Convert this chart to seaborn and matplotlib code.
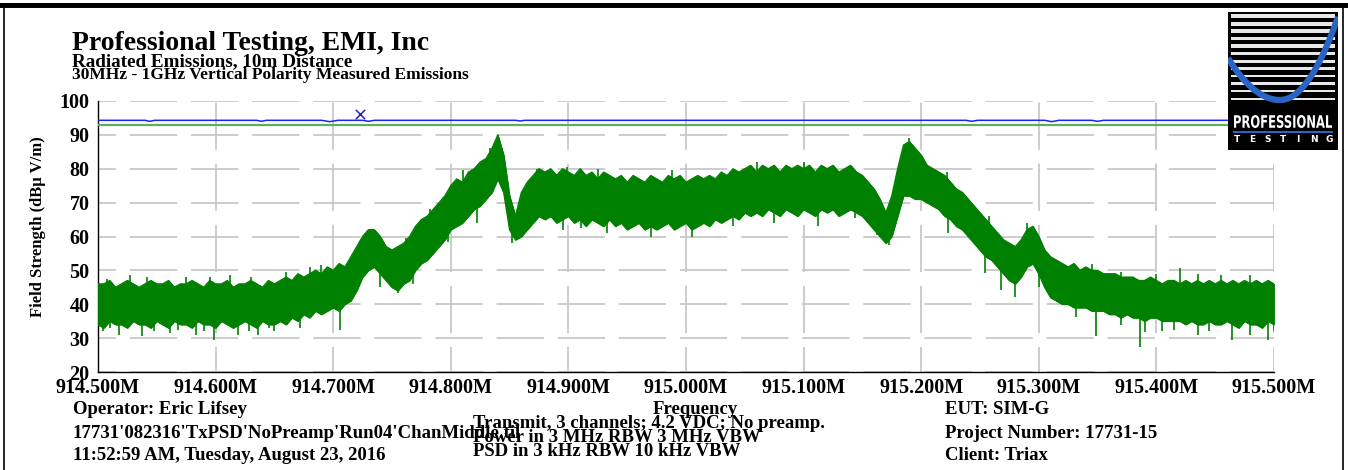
import numpy as np
import pandas as pd
import matplotlib
matplotlib.use("Agg")
import matplotlib.pyplot as plt
import seaborn as sns
from matplotlib.lines import Line2D
from matplotlib.patches import Rectangle, PathPatch
from matplotlib.ticker import MultipleLocator, FixedLocator, FixedFormatter
from matplotlib.textpath import TextPath
from matplotlib.font_manager import FontProperties
from matplotlib.transforms import Affine2D

# ---------------- data ----------------
START_MHZ = 914.5
# envelope of the measured emission trace, every 5 kHz from 914.500 MHz
env_khz = list(range(0, 1001, 5))
env_upper = [
    # 0-150
    46, 46, 47, 45, 46, 47, 46, 45, 46, 47, 46, 46, 47, 45, 46, 46, 47, 46, 45, 47,
    46, 46, 47, 45, 46, 46, 47, 46, 45, 47, 46,
    # 155-215
    47, 48, 47, 49, 48, 49, 50, 49, 51, 50, 52, 51, 54,
    # 220-265
    57, 60, 62, 62, 60, 57, 56, 57, 58, 60,
    # 270-335
    63, 65, 66, 68, 70, 72, 75, 77, 76, 79, 80, 82, 83, 86,
    # 340-375
    90, 84, 72, 66, 73, 76, 78, 80,
    # 380-640
    79, 80, 78, 80, 79, 78, 80, 78, 79, 77, 79, 78, 77, 78, 76, 78, 77, 76, 78, 77,
    76, 78, 77, 78, 76, 77, 78, 77, 78, 77, 79, 78, 80, 79, 80, 81, 79, 81, 80, 81,
    79, 81, 80, 81, 80, 81, 79, 81, 80, 81, 79, 80, 81,
    # 645-705
    79, 78, 76, 74, 71, 67, 72, 80, 87, 88, 86, 84, 81,
    # 710-815
    80, 79, 78, 76, 74, 73, 71, 69, 67, 65, 63, 61, 59, 58, 57, 59, 62, 63, 60, 56,
    54, 53,
    # 820-1000
    52, 51, 52, 50, 51, 50, 50, 49, 49, 49, 48, 48, 48, 47, 47, 48, 47, 46, 47, 47,
    46, 47, 46, 47, 46, 47, 46, 47, 46, 47, 46, 47, 46, 47, 46, 47, 46]
env_lower = [
    # 0-150
    34, 33, 35, 34, 34, 33, 35, 34, 34, 33, 35, 34, 33, 35, 34, 34, 33, 35, 34, 34,
    33, 35, 34, 33, 34, 35, 34, 33, 35, 34, 34,
    # 155-215
    35, 34, 36, 35, 37, 36, 38, 37, 38, 39, 38, 40, 41,
    # 220-265
    44, 48, 50, 51, 49, 47, 45, 44, 46, 47,
    # 270-335
    50, 52, 53, 55, 57, 59, 62, 63, 64, 66, 68, 69, 71, 73,
    # 340-375
    77, 73, 62, 59, 60, 62, 64, 66,
    # 380-640
    65, 66, 64, 65, 66, 64, 65, 63, 65, 64, 63, 65, 63, 64, 62, 63, 64, 62, 63, 62,
    63, 64, 62, 63, 64, 62, 63, 64, 63, 65, 64, 65, 66, 65, 67, 66, 67, 66, 68, 67,
    66, 68, 67, 66, 68, 67, 66, 68, 67, 68, 66, 67, 68,
    # 645-705
    67, 66, 64, 62, 60, 58, 60, 66, 72, 72, 71, 71, 70,
    # 710-815
    69, 68, 66, 65, 63, 62, 60, 58, 56, 54, 53, 51, 49, 47, 46, 48, 51, 52, 49, 45,
    42, 41,
    # 820-1000
    40, 40, 39, 39, 39, 38, 38, 38, 37, 37, 36, 37, 36, 36, 35, 36, 36, 35, 35, 35,
    35, 34, 35, 34, 34, 35, 34, 34, 35, 34, 33, 35, 34, 34, 33, 35, 34]
assert len(env_upper) == len(env_khz) == len(env_lower)

# isolated spikes of the trace (frequency offset in kHz, level in dBuV/m)
spike_khz = [4, 10, 18, 37, 48, 61, 68, 83, 90, 99, 119, 128, 136, 145, 150, 172,
             206, 240, 255, 268, 289, 298, 322, 352, 395, 411, 433, 470, 505, 540,
             575, 612, 644, 662, 673, 723, 754, 768, 780, 800, 832, 849, 870, 886,
             890, 905, 915, 935, 945, 964, 980, 995, 1000,
             8, 27, 42, 75, 95, 112, 130, 160, 180, 190, 262, 282, 310, 333, 373,
             399, 425, 488, 560, 600, 690, 722, 758, 790, 845, 870, 900, 920, 935,
             955, 980]
spike_dbuv = [32, 33, 31, 30.5, 32, 31.5, 32.5, 31, 32, 29.4, 31, 32, 31, 33, 32,
              33, 32.4, 45, 43.3, 46, 56.5, 58.4, 64, 58, 62, 62.5, 61, 60, 60, 63,
              64, 63, 65.4, 60.4, 57.5, 61, 49.2, 44.2, 42.1, 45, 36.2, 30.6, 34,
              27.4, 31.8, 32, 32.5, 31, 32, 29.4, 31, 29.4, 32,
              47.5, 48.6, 48, 48, 48, 48.5, 48, 49.5, 51, 51.5, 59.5, 68, 79.6, 86,
              80, 80.5, 80, 79.5, 82, 82, 89, 79, 66, 64, 52, 49.5, 49, 50.7, 49,
              48.5, 48.5]
assert len(spike_khz) == len(spike_dbuv)
# blue trace near the top
blue_khz = [0, 40, 44, 48, 135, 139, 143, 190, 197, 204, 225, 230, 235, 355,
            359, 363, 738, 743, 748, 805, 811, 817, 845, 850, 855, 1000]
blue_dbuv = [94.3, 94.3, 94.0, 94.3, 94.3, 94.0, 94.3, 94.3, 93.9, 94.3, 94.3,
             94.0, 94.3, 94.3, 94.1, 94.3, 94.3, 94.0, 94.3, 94.3, 93.9, 94.3,
             94.3, 94.0, 94.3, 94.3]
green_limit_dbuv = 93.0
marker_khz = [222.8]
marker_dbuv = [96.1]

x_tick_mhz = [914.5, 914.6, 914.7, 914.8, 914.9, 915.0, 915.1, 915.2, 915.3, 915.4, 915.5]
x_tick_labels = ["914.500M", "914.600M", "914.700M", "914.800M", "914.900M",
                 "915.000M", "915.100M", "915.200M", "915.300M", "915.400M", "915.500M"]
y_ticks = [20, 30, 40, 50, 60, 70, 80, 90, 100]

# ---------------- style ----------------
sns.set_theme(style="white")
plt.rcParams["font.family"] = ["Liberation Serif", "DejaVu Serif"]
plt.rcParams["font.weight"] = "bold"
plt.rcParams["lines.scale_dashes"] = False

W, H = 1348, 470
fig = plt.figure(figsize=(W / 100, H / 100), dpi=100)
fig.patch.set_facecolor("white")

def fx(x):
    return x / W

def fy(y):
    return 1 - y / H

ax = fig.add_axes([fx(98), fy(372), 1176 / W, 271 / H])
ax.set_facecolor("white")

env = pd.DataFrame({"freq": [START_MHZ + k / 1000 for k in env_khz],
                    "upper": env_upper, "lower": env_lower})
env["mid"] = (env["upper"] + env["lower"]) / 2
spk = pd.DataFrame({"freq": [START_MHZ + k / 1000 for k in spike_khz],
                    "level": spike_dbuv})
blue = pd.DataFrame({"freq": [START_MHZ + k / 1000 for k in blue_khz],
                     "level": blue_dbuv})

TRACE = "#008000"
ax.fill_between(env["freq"], env["lower"], env["upper"], color=TRACE, lw=0.6,
                edgecolor=TRACE, zorder=3)
sns.lineplot(data=env, x="freq", y="upper", color=TRACE, lw=1.0, ax=ax, zorder=3)
sns.lineplot(data=env, x="freq", y="lower", color=TRACE, lw=1.0, ax=ax, zorder=3)
base = np.interp(spk["freq"], env["freq"], env["mid"])
ax.vlines(spk["freq"], base, spk["level"], color=TRACE, lw=1.2, zorder=3)

sns.lineplot(data=blue, x="freq", y="level", color="#2020ff", lw=1.1, ax=ax, zorder=4)
ax.axhline(green_limit_dbuv, color="#5caf5c", lw=1.6, zorder=4)
sns.scatterplot(x=[START_MHZ + k / 1000 for k in marker_khz], y=marker_dbuv,
                marker="x", s=45, color="#2020c0", linewidth=1.1, ax=ax, zorder=5)

ax.set_xlim(914.5, 915.5)
ax.set_ylim(20, 100)
ax.xaxis.set_major_locator(FixedLocator(x_tick_mhz))
ax.xaxis.set_major_formatter(FixedFormatter(x_tick_labels))
ax.xaxis.set_minor_locator(MultipleLocator(0.01))
ax.yaxis.set_major_locator(FixedLocator(y_ticks))
ax.yaxis.set_minor_locator(MultipleLocator(1))

ax.grid(True, which="major", axis="y", color="#c8c8c8", lw=1.3,
        linestyle=(21, (34, 10)), zorder=1)
ax.grid(True, which="major", axis="x", color="#c8c8c8", lw=1.3,
        linestyle=(16, (34, 10)), zorder=1)
ax.set_axisbelow(True)

for s in ["top", "right"]:
    ax.spines[s].set_visible(False)
for s in ["left", "bottom"]:
    ax.spines[s].set_color("black")
    ax.spines[s].set_linewidth(1.0)

ax.tick_params(axis="both", which="major", direction="inout", length=8, width=1,
               color="black", labelsize=14.5, labelcolor="black")
ax.tick_params(axis="both", which="minor", direction="inout", length=5, width=0.8,
               color="black")
ax.tick_params(axis="x", which="major", pad=0)
ax.tick_params(axis="y", which="major", pad=2)
for lab in ax.get_xticklabels() + ax.get_yticklabels():
    lab.set_fontweight("bold")
ax.set_xlabel("")
ax.set_ylabel("")

# ---------------- texts ----------------
def txt(x, y, s, size, va="baseline", ha="left", **kw):
    fig.text(fx(x), fy(y), s, fontsize=size, fontweight="bold", va=va, ha=ha,
             color="black", **kw)

txt(72, 50, "Professional Testing, EMI, Inc", 20)
txt(72, 66, "Radiated Emissions, 10m Distance", 13.8)
txt(72, 79, "30MHz - 1GHz Vertical Polarity Measured Emissions", 12.5)
txt(38, 227, "Field Strength (dBµ V/m)", 12, va="center", ha="center", rotation=90)

BS = 13.5
txt(73, 409, "Operator: Eric Lifsey", BS, va="center")
txt(73, 434, "17731'082316'TxPSD'NoPreamp'Run04'ChanMiddle.til", BS, va="center")
txt(73, 456, "11:52:59 AM, Tuesday, August 23, 2016", BS, va="center")
txt(695, 409, "Frequency", BS, va="center", ha="center")
txt(473, 424, "Transmit, 3 channels; 4.2 VDC; No preamp.", BS, va="center")
txt(473, 437, "Power in 3 MHz RBW 3 MHz VBW", BS, va="center")
txt(473, 451, "PSD in 3 kHz RBW 10 kHz VBW", BS, va="center")
txt(945, 409, "EUT: SIM-G", BS, va="center")
txt(945, 433, "Project Number: 17731-15", BS, va="center")
txt(945, 456, "Client: Triax", BS, va="center")

# ---------------- frame ----------------
fig.add_artist(Rectangle((0, fy(8)), 1, 5 / H, transform=fig.transFigure,
                         facecolor="black", edgecolor="none"))
fig.add_artist(Line2D([fx(4), fx(4)], [0, fy(6)], transform=fig.transFigure,
                      color="black", lw=1.2))
fig.add_artist(Line2D([fx(1343), fx(1343)], [0, fy(6)], transform=fig.transFigure,
                      color="black", lw=1.2))

# ---------------- logo ----------------
lg = fig.add_axes([fx(1228), fy(150), 110 / W, 138 / H], zorder=10)
lg.set_xlim(0, 110)
lg.set_ylim(138, 0)
lg.axis("off")
lg.add_patch(Rectangle((0, 0), 110, 138, facecolor="black", edgecolor="none"))
for k in range(12):
    y0 = 2 + k * 7.6
    h = 4.2 - k * 0.2
    lg.add_patch(Rectangle((3, y0), 104, h, facecolor="#e8e8e8", edgecolor="none"))
xs_l = np.linspace(0, 52, 40)
xs_r = np.linspace(52, 110, 40)
lg.plot(xs_l, 88 - 0.0155 * (xs_l - 52) ** 2, color="#2a64c4", lw=4.5,
        solid_capstyle="butt")
lg.plot(xs_r, 88 - 0.0247 * (xs_r - 52) ** 2, color="#2a64c4", lw=4.5,
        solid_capstyle="butt")
tp = TextPath((0, 0), "PROFESSIONAL", size=10,
              prop=FontProperties(family="DejaVu Sans", weight="bold"))
bb = tp.get_extents()
tr = (Affine2D().translate(-bb.x0, -bb.y0)
      .scale(98 / bb.width, -13 / bb.height).translate(6, 116))
lg.add_patch(PathPatch(tr.transform_path(tp), facecolor="white", edgecolor="none"))
lg.add_patch(Rectangle((5, 118.5), 100, 2.5, facecolor="#2a64c4", edgecolor="none"))
for i, ch in enumerate("TESTING"):
    lg.text(9 + i * 15.3, 128, ch, color="white", fontsize=6.5, fontweight="bold",
            ha="center", va="center", family=["DejaVu Sans"])

fig.savefig("out.png", dpi=100, facecolor="white")
